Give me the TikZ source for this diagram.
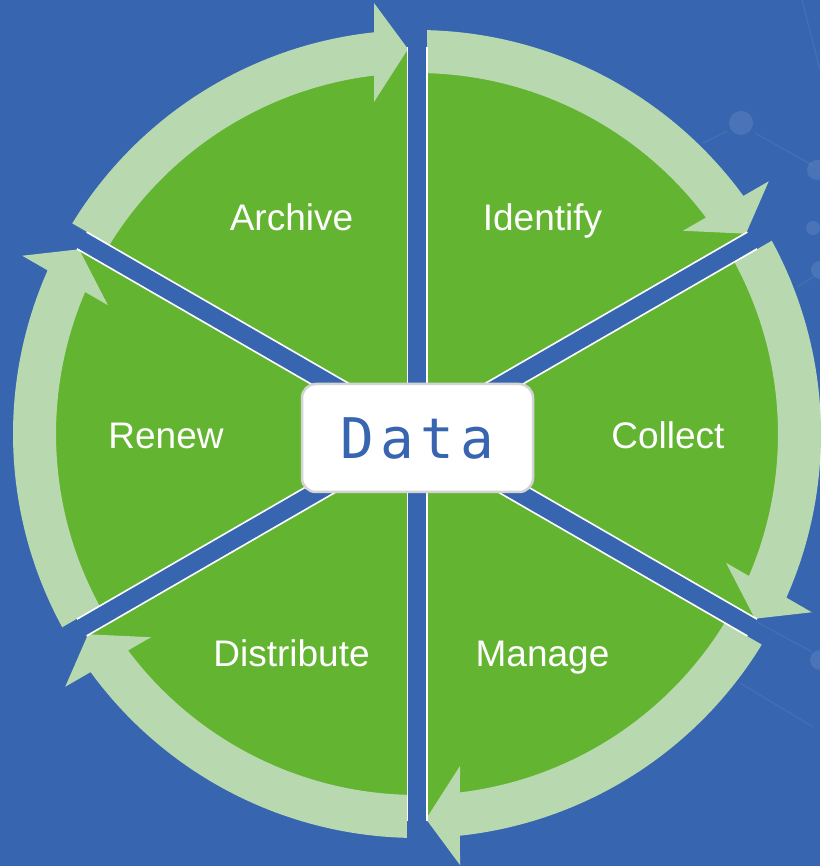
\documentclass[tikz,border=0pt]{standalone}
\usepackage{fontspec}
\setmainfont{Liberation Sans}
\newfontfamily\datafont[LetterSpace=11]{DejaVu Sans Mono}
\usepackage{xcolor}
\definecolor{bgblue}{RGB}{55,101,176}
\definecolor{segreen}{RGB}{99,180,49}
\definecolor{bandgreen}{RGB}{184,217,175}
\definecolor{boxgray}{RGB}{212,212,212}
\tikzset{
  lbl/.style={text=white,font=\fontsize{37}{40}\selectfont,anchor=base,inner sep=0pt},
  databox/.style={fill=white,draw=boxgray,line width=2.5pt,rounded corners=14pt,
    minimum width=231pt,minimum height=108pt,text=bgblue,
    font=\datafont\fontsize{56}{60}\selectfont},
  net/.style={white,opacity=0.07,line width=1.2pt}
}

\begin{document}
\begin{tikzpicture}[line join=round,x=1pt,y=1pt]
\fill[bgblue] (-417,-432) rectangle (403,434);
\useasboundingbox (-417,-432) rectangle (403,434);
\draw[net] (286,291) -- (310,303);
\draw[net] (338,301) -- (395,269);
\draw[net] (385,434) -- (403,364);
\draw[net] (380,147) -- (396,157);
\draw[net] (340,-188) -- (395,-218);
\draw[net] (323,-249) -- (396,-293);
\fill[net,opacity=0.1] (324,311) circle (12);
\fill[net,opacity=0.1] (400,264) circle (10);
\fill[net,opacity=0.1] (396,206) circle (7);
\fill[net,opacity=0.1] (403,164) circle (9);
\fill[net,opacity=0.1] (403,-226) circle (10);
\fill[segreen] (0,0) circle (387);
\foreach \r in {0,-60,...,-300}{
  \begin{scope}[rotate=\r]
    \fill[bandgreen] (148.58:404) arc[start angle=148.58,end angle=96.11,radius=404pt]
      -- (-43,431) -- (-9,385) -- (-43,332) -- (96.84:361)
      arc[start angle=96.84,end angle=148.41,radius=361pt] -- cycle;
  \end{scope}
}
\foreach \a in {90,30,-30}{
  \draw[white,line width=21pt,line cap=butt] (\a+180:387) -- (\a:387);
  \draw[bgblue,line width=17.5pt,line cap=butt] (\a+180:388) -- (\a:388);
}
\node[lbl] (archive) at ([yshift=-14pt]120:251) {Archive};
\node[lbl] (identify) at ([yshift=-14pt]60:251) {Identify};
\node[lbl] (collect) at ([yshift=-15pt]0:251) {Collect};
\node[lbl] (manage) at ([yshift=-15pt]-60:251) {Manage};
\node[lbl] (distribute) at ([yshift=-15pt]-120:251) {Distribute};
\node[lbl] (renew) at ([yshift=-15pt]180:251) {Renew};
\node[databox] (data) at (0.5,-4) {Data};
\end{tikzpicture}
\end{document}
